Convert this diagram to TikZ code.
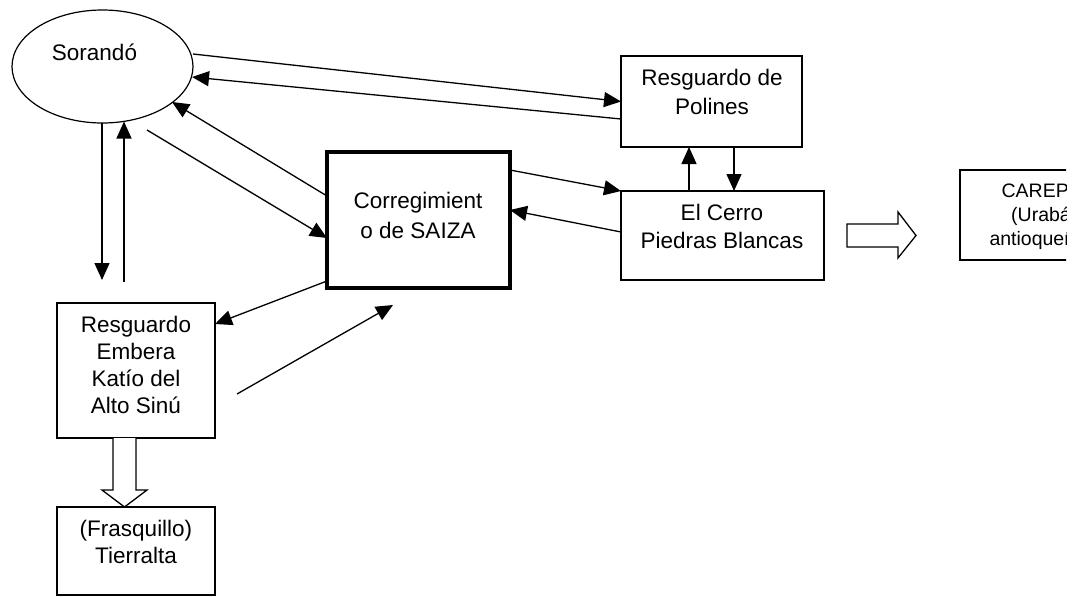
\documentclass[tikz,border=0pt]{standalone}
\usepackage{fontspec}
\setmainfont{Liberation Sans}
\usetikzlibrary{arrows.meta,calc,shapes.geometric}
\begin{document}
\begin{tikzpicture}[x=1pt,y=-1pt,
  box/.style={draw, line width=1.4pt, inner sep=0pt, outer sep=0pt, rectangle},
  lbl/.style={inner sep=0pt, align=center, anchor=base, font=\fontsize{22.5}{28}\selectfont},
  conn/.style={line width=1.3pt, -{Triangle[length=17pt,width=15pt]}},
  hollow/.style={draw, line width=1.3pt, fill=white, line join=miter}]
\useasboundingbox (0,0) rectangle (1080,597);
\clip (0,0) rectangle (1066,597);
% nodes
\node[draw, ellipse, line width=1.2pt, minimum width=181pt, minimum height=113pt, inner sep=0pt, outer sep=0pt] (sor) at (102.5,66.5) {};
\node[box, minimum width=181pt, minimum height=91pt] (pol) at (711.5,101.5) {};
\node[box, minimum width=203pt, minimum height=89pt] (cer) at (722.5,235.5) {};
\node[box, line width=4.5pt, minimum width=183pt, minimum height=136pt] (cor) at (418.5,220) {};
\node[box, minimum width=158pt, minimum height=135pt] (emb) at (136,370.5) {};
\node[box, minimum width=158pt, minimum height=88pt] (fra) at (136,551) {};
\node[box, minimum width=160pt, minimum height=90pt] (car) at (1040,215) {};
% texts (base anchor = baseline of the last line)
\node[lbl] (tsor) at (94.5,60) {Sorandó};
\node[lbl, font=\fontsize{22.5}{29}\selectfont] (tpol) at (712,114) {Resguardo de\\Polines};
\node[lbl] (tcer) at (722,248) {El Cerro\\Piedras Blancas};
\node[lbl, font=\fontsize{22.5}{30}\selectfont] (tcor) at (418,238) {Corregimient\\o de SAIZA};
\node[lbl, font=\fontsize{22.5}{26.7}\selectfont] (temb) at (136,413) {Resguardo\\Embera\\Katío del\\Alto Sinú};
\node[lbl, font=\fontsize{22.5}{27}\selectfont] (tfra) at (136,563) {(Frasquillo)\\Tierralta};
\node[lbl, font=\fontsize{19.5}{24}\selectfont] (tcar) at (1041,245) {CAREPA\\(Urabá\\antioqueño)};
% connectors
\draw[conn] ($(sor.east)+(0,-12.5)$) -- (pol.west);
\draw[conn] ($(pol.west)+(0,17.5)$) -- ($(sor.center)+(89.5,10.5)$);
\draw[conn] ($(cor.west)+(0,-24)$) -- ($(sor.center)+(69.5,35.5)$);
\coordinate (s4) at (147,130);
\draw[conn] (s4) -- ($(cor.west)+(0,18)$);
\coordinate (d1) at (102,280);
\draw[conn] ($(sor.south)+(-0.5,0)$) -- (d1);
\coordinate (u1) at (124,282);
\draw[conn] (u1) -- ($(sor.center)+(21.5,55)$);
\draw[conn] ($(cor.south west)+(0,-7)$) -- ($(emb.north east)+(0,21)$);
\coordinate (s8) at (237,394);
\coordinate (e8) at (393,305);
\draw[conn] (s8) -- (e8);
\draw[conn] ($(cor.north east)+(0,18)$) -- (cer.north west);
\draw[conn] ($(cer.west)+(0,-3.5)$) -- ($(cor.east)+(0,-10)$);
\draw[conn] ($(cer.north west)+(68,0)$) -- ($(pol.south west)+(68,0)$);
\draw[conn] ($(pol.south west)+(113,0)$) -- ($(cer.north west)+(113,0)$);
% hollow arrows
\draw[hollow] (847,224) -- (898,224) -- (898,212) -- (916,235.5) -- (898,258) -- (898,247) -- (847,247) -- cycle;
\draw[hollow] (113,438) -- (113,490) -- (102,490) -- (124.5,507) -- (147,490) -- (136,490) -- (136,438);
\end{tikzpicture}
\end{document}
